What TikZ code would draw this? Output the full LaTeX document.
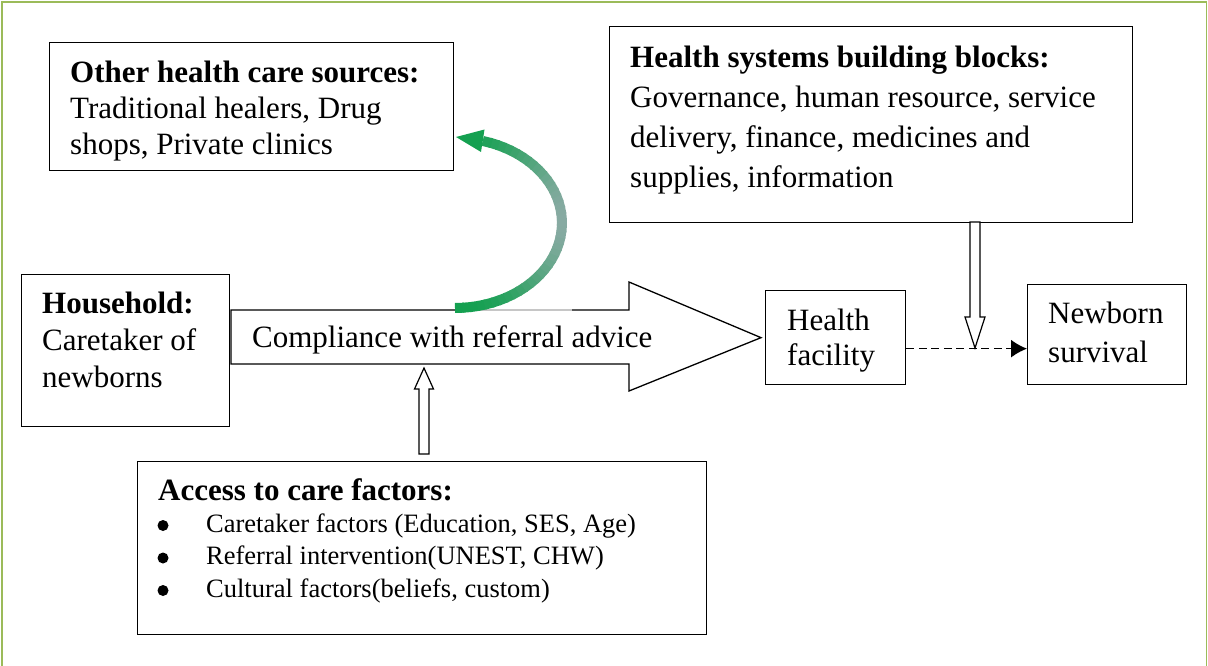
\documentclass[tikz,border=0pt]{standalone}
\usepackage{fontspec}
\setmainfont{Liberation Serif}
\usetikzlibrary{arrows.meta}
\definecolor{pageframe}{RGB}{155,187,89}
\definecolor{loopgreen}{RGB}{20,160,80}
\definecolor{loopgrey}{RGB}{135,170,162}
\tikzset{
  box/.style={draw,line width=1.3pt,inner sep=0pt,anchor=north west},
  txt/.style={anchor=north west,inner sep=0pt,align=left},
  hollow/.style={draw,fill=white,line width=1.2pt,line join=miter},
}
\begin{document}
\begin{tikzpicture}[x=1pt,y=-1pt]
        \useasboundingbox (0,0) rectangle (1208,666);
        %frame
        \draw[pageframe,line width=2.5pt] (2,666)--(2,2)--(1206.5,2);
        \draw[pageframe,line width=1.5pt] (1206.5,2)--(1206.5,666);
        %boxes
        \node[box,minimum width=404pt,minimum height=128pt] (other) at (49,42) {};
        \node[box,minimum width=523pt,minimum height=196pt] (hsbb) at (609,26) {};
        \node[box,minimum width=208pt,minimum height=152pt] (hh) at (21,274) {};
        \node[box,minimum width=140pt,minimum height=94pt] (fac) at (765,290) {};
        \node[box,minimum width=159pt,minimum height=100pt] (nb) at (1027,284) {};
        \node[box,minimum width=569pt,minimum height=173pt] (access) at (137,461) {};
        %box texts
        \node[txt,font=\fontsize{31}{36}\selectfont] (othertxt) at (70,56.8)
            {\strut\textbf{Other health care sources:}\\Traditional healers, Drug\\shops, Private clinics};
        \node[txt,font=\fontsize{31}{40}\selectfont] (hsbbtxt) at (630,39)
            {\strut\textbf{Health systems building blocks:}\\Governance, human resource, service\\delivery, finance, medicines and\\supplies, information};
        \node[txt,font=\fontsize{31}{37}\selectfont] (hhtxt) at (42,287.1)
            {\strut\textbf{Household:}\\Caretaker of\\newborns};
        \node[txt,font=\fontsize{31}{35}\selectfont] (factxt) at (787,305.5)
            {\strut Health\\facility};
        \node[txt,font=\fontsize{31}{39}\selectfont] (nbtxt) at (1048,295.7)
            {\strut Newborn\\survival};
        \node[anchor=base west,inner sep=0pt,font=\fontsize{31}{36}\selectfont\bfseries] (accesstitle) at (158,500)
            {Access to care factors:};
        \node[txt,font=\fontsize{26.5}{32.5}\selectfont] (accesslist) at (206,509.25)
            {\strut Caretaker factors (Education, SES, Age)\\Referral intervention(UNEST, CHW)\\Cultural factors(beliefs, custom)};
        %bullets
        \foreach \by in {525.5,558,590.5}
            \fill (163,\by) circle (5.5pt);
        %big arrow
        \draw[fill=white,line width=1.3pt,line join=miter] (231,310) -- (629,310) -- (629,282)
            -- ([xshift=-4pt]fac.west) -- (629,391) -- (629,364) -- (231,364) -- cycle;
        \node[anchor=base west,inner sep=0pt,font=\fontsize{31}{36}\selectfont] (comply) at (252,347)
            {Compliance with referral advice};
        %hollow arrows
        \draw[hollow] (419,454) -- (419,389) -- (414.5,389) -- (424,368) -- (433.5,389) -- (429,389) -- (429,454) -- cycle;
        \draw[hollow] (970,222) -- (970,317) -- (965,317) -- (975,348) -- (985,317) -- (980,317) -- (980,222) -- cycle;
        %dashed link
        \draw[dashed,line width=1.5pt,dash pattern=on 8pt off 4.5pt,-{Latex[length=16pt,width=18pt]}]
            ([yshift=-11pt]fac.east) -- ([yshift=-11pt]fac.east -| nb.west);
        %green loop
        \draw[gray!45,line width=1.6pt] (455,310) -- (572,310);
        \foreach \a in {-90,-86,...,70} {
            \pgfmathsetmacro\mixval{100*sin(abs(\a))^2}
            \draw[loopgreen!\mixval!loopgrey,line width=10pt]
                ({455+107*cos(\a)},{223-85*sin(\a)}) -- ({455+107*cos(\a+5)},{223-85*sin(\a+5)});
        }
        \fill[loopgreen] (456,137) -- (484.5,129.5) -- (481,152) -- cycle;
\end{tikzpicture}
\end{document}
